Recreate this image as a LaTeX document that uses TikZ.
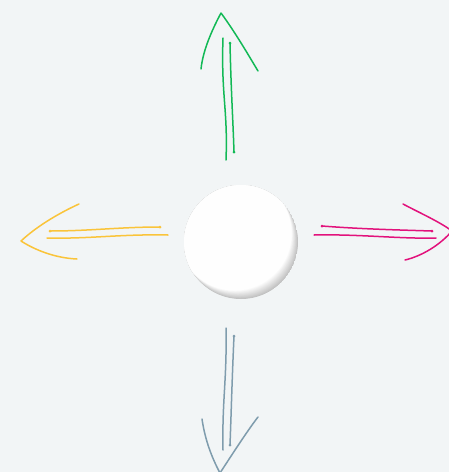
\documentclass[tikz,border=0pt]{standalone}
\usetikzlibrary{calc}

\definecolor{canvas}{HTML}{F2F5F6}
\definecolor{upgreen}{HTML}{12B956}
\definecolor{leftyellow}{HTML}{FAC43A}
\definecolor{rightpink}{HTML}{E2127C}
\definecolor{downslate}{HTML}{7F9CAD}

\begin{document}
\begin{tikzpicture}[
    x=1pt, y=-1pt,
    sketch/.style={line width=1.5pt, line cap=round, line join=round},
    tipdot/.style={circle, fill, inner sep=0pt, minimum size=3pt}
  ]
  % canvas
  \fill[canvas] (0,0) rectangle (449,472);
  \useasboundingbox (0,0) rectangle (449,472);

  % centre ball with soft shade on the lower right rim
  \node[circle, minimum size=114pt, inner sep=0pt] (hub) at (241,242) {};
  \begin{scope}
    \clip (hub.center) circle (57pt);
    \foreach \k in {0,...,14}{
      \pgfmathsetmacro\tone{24-1.7*\k}
      \fill[black!\tone!white] ($(hub.center)+(-0.45*\k,-0.6*\k)$) circle (57pt);
    }
  \end{scope}

  % up (green)
  \begin{scope}[upgreen, sketch]
    \coordinate (upTip) at (221,13);
    \draw (201,69) .. controls (203,50) and (212,30) .. (upTip)
          .. controls (235,32) and (249,56) .. (258,71);
    \draw (223,38) .. controls (221,95) and (228,110) .. (226,160);
    \draw (230,43) .. controls (231,90) and (233,120) .. (234,152);
    \node[tipdot] at (230,43) {};
    \node[tipdot] at (234,152) {};
  \end{scope}

  % left (yellow)
  \begin{scope}[leftyellow, sketch]
    \coordinate (leftTip) at (21,241);
    \draw (79,204) .. controls (55,215) and (35,228) .. (leftTip)
          .. controls (35,250) and (55,258) .. (77,259);
    \draw (50,231) .. controls (90,231) and (120,227) .. (160,227);
    \draw (47,238) .. controls (90,239) and (120,234) .. (168,235);
    \node[tipdot] at (50,231) {};
    \node[tipdot] at (160,227) {};
  \end{scope}

  % right (pink)
  \begin{scope}[rightpink, sketch]
    \coordinate (rightTip) at (452,231);
    \draw (403,204) .. controls (420,213) and (440,222) .. (rightTip)
          .. controls (440,245) and (422,256) .. (405,260);
    \draw (322,226) .. controls (360,229) and (400,230) .. (432,231);
    \draw (314,235) .. controls (360,234) and (400,239) .. (436,238);
    \node[tipdot] at (322,226) {};
    \node[tipdot] at (432,231) {};
  \end{scope}

  % down (slate)
  \begin{scope}[downslate, sketch]
    \coordinate (downTip) at (220,473);
    \draw (202,419) .. controls (205,440) and (212,458) .. (downTip)
          .. controls (235,450) and (248,430) .. (258,417);
    \draw (226,328) .. controls (227,380) and (222,400) .. (223,450);
    \draw (234,336) .. controls (232,380) and (231,420) .. (230,445);
    \node[tipdot] at (234,336) {};
    \node[tipdot] at (230,445) {};
  \end{scope}
\end{tikzpicture}
\end{document}
